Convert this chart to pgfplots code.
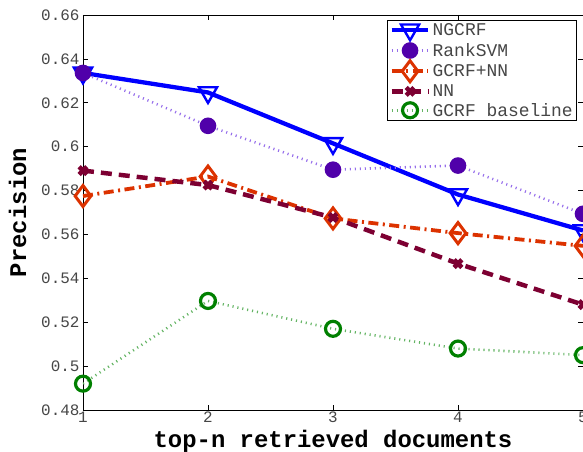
\documentclass[border=0pt]{standalone}
\usepackage{fontspec}
\setmainfont{Liberation Mono}
\newfontfamily\monofont{Liberation Mono}
\usepackage{pgfplots}
\pgfplotsset{compat=1.18}
\definecolor{cNG}{RGB}{0,0,255}
\definecolor{cRSm}{RGB}{80,0,170}
\definecolor{cRSl}{RGB}{150,110,235}
\definecolor{cGN}{RGB}{220,50,0}
\definecolor{cNN}{RGB}{125,0,50}
\definecolor{cGBm}{RGB}{0,128,0}
\definecolor{cGBl}{RGB}{100,180,100}
\definecolor{tickgray}{RGB}{70,70,70}
\begin{document}
\begin{tikzpicture}
\begin{axis}[
  scale only axis,
  width=500bp, height=395bp,
  xmin=1, xmax=5, ymin=0.48, ymax=0.66,
  xtick={1,2,3,4,5},
  ytick={0.48,0.5,0.52,0.54,0.56,0.58,0.6,0.62,0.64,0.66},
  yticklabels={0.48,0.5,0.52,0.54,0.56,0.58,0.6,0.62,0.64,0.66},
  tick align=inside,
  major tick length=5bp,
  tick style={black, line width=0.6pt},
  axis line style={black, line width=0.9pt},
  /pgf/number format/assume math mode=true,
  ticklabel style={font=\fontsize{16}{16}\selectfont\monofont, text=tickgray},
  xticklabel style={yshift=2bp},
  xlabel={\bfseries top-n retrieved documents},
  ylabel={\bfseries Precision},
  label style={font=\fontsize{24}{24}\selectfont\monofont},
  xlabel style={yshift=-0.5bp},
  ylabel style={yshift=8bp},
  legend style={at={(rel axis cs:0.608,0.987)}, anchor=north west,
    font=\fontsize{18}{18}\selectfont\monofont, text=tickgray,
    draw=black, line width=0.8pt, inner xsep=2pt, inner ysep=0.5pt, row sep=1bp,
    legend cell align=left},
  legend image code/.code={
    \draw[mark repeat=2,mark phase=2] plot coordinates {(0cm,0cm) (0.65cm,0cm) (1.3cm,0cm)};},
]
\coordinate (sw) at (rel axis cs:0,0);
\coordinate (ne) at (rel axis cs:1,1);
\addplot[cNG, line width=4.3pt, mark=triangle, mark options={solid, rotate=180, line width=2.4pt, fill=white}, mark size=10.5bp]
  coordinates {(1,0.6336) (2,0.6247) (3,0.6015) (4,0.5782) (5,0.5618)};
\addlegendentry{NGCRF}
\addplot[cRSl, line width=2.6pt, dash pattern=on 1.1bp off 3.9bp, mark=*, mark options={solid, cRSm, fill=cRSm}, mark size=7bp]
  coordinates {(1,0.6336) (2,0.6095) (3,0.5895) (4,0.5914) (5,0.5694)};
\addlegendentry{RankSVM}
\addplot[cGN, line width=3.8pt, dash pattern=on 10bp off 4.5bp on 2bp off 4.5bp, mark=diamond, mark options={solid, line width=3pt, fill=white}, mark size=10.5bp]
  coordinates {(1,0.5775) (2,0.5864) (3,0.5673) (4,0.5606) (5,0.5548)};
\addlegendentry{GCRF+NN}
\addplot[cNN, line width=4.5pt, dash pattern=on 11bp off 7bp, mark=x, mark options={solid, line width=4.5pt}, mark size=5.5bp]
  coordinates {(1,0.5891) (2,0.5825) (3,0.5677) (4,0.5467) (5,0.528)};
\addlegendentry{NN}
\addplot[cGBl, line width=2.6pt, dash pattern=on 1.1bp off 3.9bp, mark=o, mark options={solid, cGBm, line width=3.2pt}, mark size=7.5bp]
  coordinates {(1,0.492) (2,0.5297) (3,0.517) (4,0.508) (5,0.505)};
\addlegendentry{GCRF baseline}
\end{axis}
\pgfresetboundingbox
\path[use as bounding box] ([shift={(-83bp,-42bp)}]sw) rectangle ([shift={(0bp,15bp)}]ne);
\end{tikzpicture}
\end{document}
